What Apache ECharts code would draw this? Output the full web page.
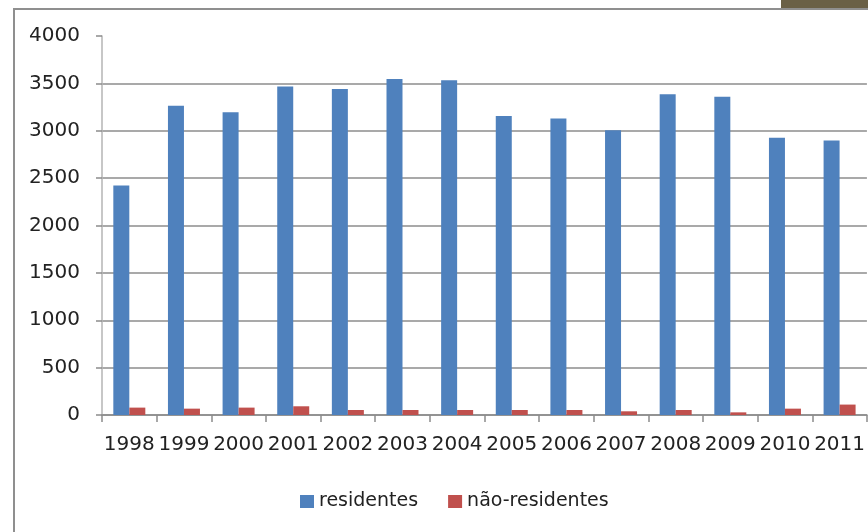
<!DOCTYPE html>
<html>
<head>
<meta charset="utf-8">
<script src="https://cdn.jsdelivr.net/npm/echarts@6/dist/echarts.min.js"></script>
<style>
  html, body { margin: 0; padding: 0; background: #fff; }
  #chart { width: 868px; height: 532px; }
</style>
</head>
<body>
<div id="chart"></div>
<script>
// dados
var anos = ["1998", "1999", "2000", "2001", "2002", "2003", "2004",
            "2005", "2006", "2007", "2008", "2009", "2010", "2011"];
var residentes = [2423, 3264, 3194, 3468, 3440, 3546, 3532,
                  3155, 3130, 3004, 3384, 3359, 2926, 2898];
var naoResidentes = [78, 67, 78, 92, 53, 53, 53,
                     53, 53, 39, 53, 28, 67, 110];
var yTicks = [0, 500, 1000, 1500, 2000, 2500, 3000, 3500, 4000];

(function() {
  var myChart = echarts.init(document.getElementById("chart"));
  var font = "DejaVu Sans";

  var option = {
    animation: false,
    backgroundColor: "#fff",
    textStyle: { fontFamily: font },
    graphic: [
      // moldura do gráfico
      {
        type: "rect",
        shape: { x: 14, y: 9, width: 900, height: 560 },
        style: { fill: "none", stroke: "#8f8f8f", lineWidth: 2 },
        z: 0
      },
      // faixa no canto superior direito
      {
        type: "rect",
        shape: { x: 781, y: 0, width: 87, height: 8 },
        style: { fill: "#6a6046" },
        z: 1
      }
    ],
    legend: {
      left: 295,
      top: 487,
      itemWidth: 14,
      itemHeight: 13,
      itemGap: 30,
      icon: "rect",
      textStyle: { fontFamily: font, fontSize: 19, color: "#222" },
      data: ["residentes", "não-residentes"]
    },
    grid: {
      left: 102,
      right: 0,
      top: 36,
      bottom: 117,
      containLabel: false
    },
    xAxis: {
      type: "category",
      data: anos,
      axisLine: { lineStyle: { color: "#8c8c8c", width: 1.5 } },
      axisTick: { show: true, length: 7, lineStyle: { color: "#8c8c8c", width: 1.5 } },
      axisLabel: { margin: 20, fontSize: 20, color: "#222", fontFamily: font, interval: 0 }
    },
    yAxis: {
      type: "value",
      min: yTicks[0],
      max: yTicks[yTicks.length - 1],
      interval: 500,
      axisLine: { show: true, lineStyle: { color: "#b4b4b4", width: 1.5 } },
      axisTick: { show: true, length: 6, lineStyle: { color: "#8c8c8c", width: 1.5 } },
      axisLabel: {
        margin: 22, fontSize: 20, color: "#222", fontFamily: font,
        formatter: function(v) { return String(v); }
      },
      splitLine: { show: true, showMaxLine: false, lineStyle: { color: "#8c8c8c", width: 1.5 } }
    },
    series: [
      {
        name: "residentes",
        type: "bar",
        data: residentes,
        barWidth: 16,
        barGap: "0%",
        itemStyle: { color: "#4f81bd" }
      },
      {
        name: "não-residentes",
        type: "bar",
        data: naoResidentes,
        barWidth: 16,
        barGap: "0%",
        itemStyle: { color: "#c0504d" }
      }
    ]
  };

  myChart.setOption(option);
})();
</script>
</body>
</html>
